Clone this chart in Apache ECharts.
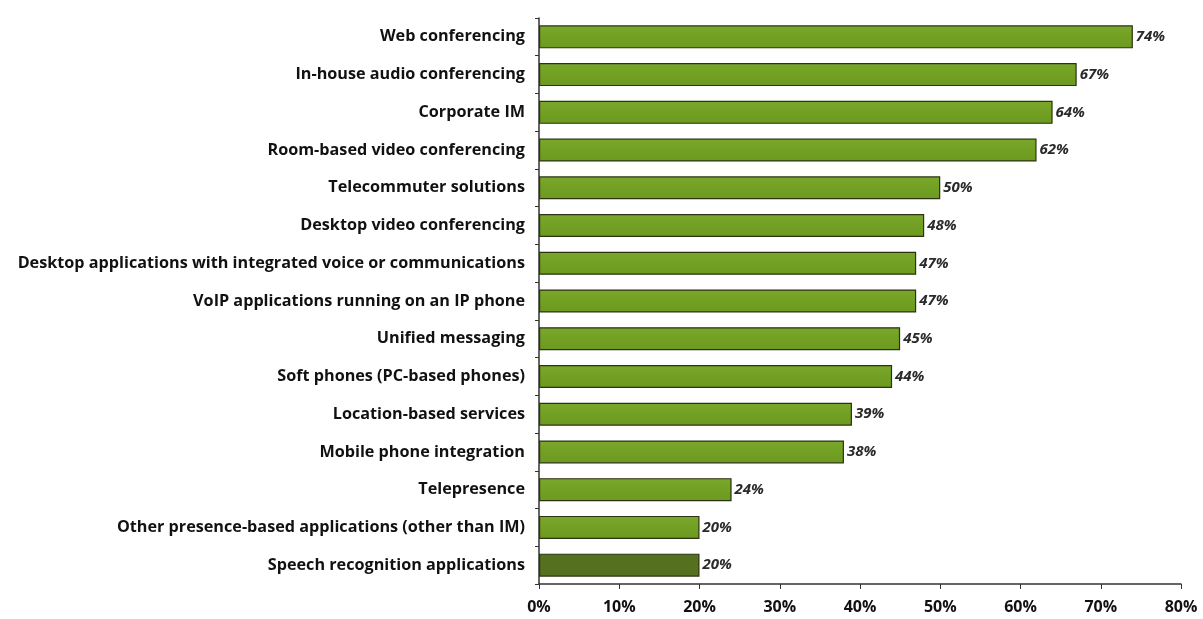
<!DOCTYPE html>
<html><head><meta charset="utf-8">
<script src="https://cdn.jsdelivr.net/npm/echarts@6/dist/echarts.min.js"></script>
<style>html,body{margin:0;padding:0;background:#fff}#c{width:1203px;height:619px}</style>
</head><body><div id="c"></div>
<script>
const categories = [
  "Web conferencing",
  "In-house audio conferencing",
  "Corporate IM",
  "Room-based video conferencing",
  "Telecommuter solutions",
  "Desktop video conferencing",
  "Desktop applications with integrated voice or communications",
  "VoIP applications running on an IP phone",
  "Unified messaging",
  "Soft phones (PC-based phones)",
  "Location-based services",
  "Mobile phone integration",
  "Telepresence",
  "Other presence-based applications (other than IM)",
  "Speech recognition applications"
];
const values = [74, 67, 64, 62, 50, 48, 47, 47, 45, 44, 39, 38, 24, 20, 20];
const xTicks = [0, 10, 20, 30, 40, 50, 60, 70, 80];

const chart = echarts.init(document.getElementById('c'));
const n = categories.length;
const data = values.map((v, i) => ({
  value: v,
  itemStyle: i === n - 1 ? { color: '#55701f', borderColor: '#2a3410' } : undefined
}));
chart.setOption({
  animation: false,
  grid: { left: 539, right: 22, top: 18, bottom: 35, containLabel: false },
  xAxis: {
    type: 'value', min: xTicks[0], max: xTicks[xTicks.length - 1], interval: 10,
    axisLine: { show: true, lineStyle: { color: '#333', width: 1.5 } },
    axisTick: { show: true, length: 5, lineStyle: { color: '#333' } },
    splitLine: { show: false },
    axisLabel: { formatter: '{value}%', color: '#111', fontSize: 16, fontWeight: 'bold', fontFamily: 'Open Sans', margin: 15 }
  },
  yAxis: {
    type: 'category', data: categories.slice().reverse(),
    axisLine: { show: true, lineStyle: { color: '#333', width: 1.5 } },
    axisTick: { show: true, length: 4, lineStyle: { color: '#333' } },
    axisLabel: { color: '#111', fontSize: 16.2, fontWeight: 'bold', fontFamily: 'Open Sans', margin: 14 }
  },
  series: [{
    type: 'bar',
    data: data.slice().reverse(),
    barWidth: 23,
    itemStyle: {
      color: new echarts.graphic.LinearGradient(0, 0, 0, 1, [
        { offset: 0, color: '#7ba82c' },
        { offset: 0.5, color: '#72a023' },
        { offset: 1, color: '#6c9920' }
      ]),
      borderColor: '#2b3310', borderWidth: 1.2
    },
    label: {
      show: true, position: 'right', distance: 3, formatter: '{c}%',
      color: '#2a2a2a', fontSize: 15, fontWeight: 'bold', fontStyle: 'italic', fontFamily: 'Open Sans'
    }
  }]
});
</script></body></html>
